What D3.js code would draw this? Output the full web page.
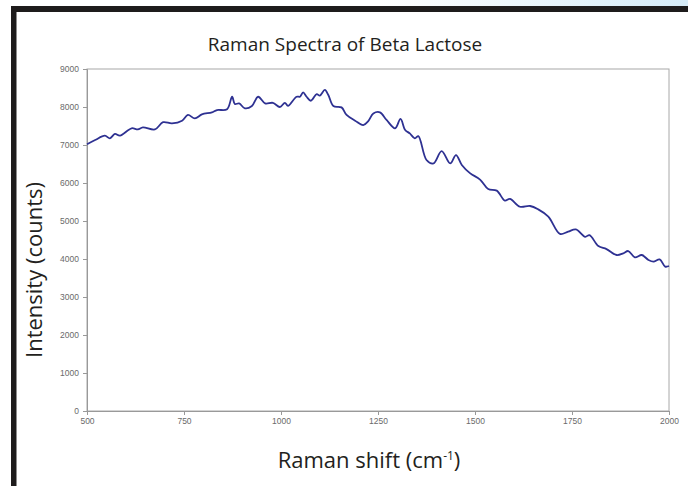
<!DOCTYPE html>
<html>
<head>
    <meta charset="UTF-8">
    <script src="https://d3js.org/d3.v7.min.js"></script>
    <style>
        body { margin: 0; background: #fff; }
        svg { display: block; }
    </style>
</head>
<body>
    <svg></svg>
    <script>
        // Raman shift (cm-1) and intensity (counts)
        let shift = [500, 521, 546, 559, 572, 585, 615, 631, 644, 675, 696, 719, 745, 760, 778, 796,
            822, 835, 861, 874, 881, 892, 907, 925, 941, 959, 979, 997, 1010, 1018, 1040, 1049,
            1057, 1066, 1077, 1092, 1100, 1113, 1122, 1135, 1156, 1169, 1191, 1212, 1225, 1238,
            1255, 1272, 1294, 1308, 1320, 1332, 1345, 1354, 1375, 1393, 1414, 1436, 1451, 1466,
            1487, 1513, 1534, 1556, 1577, 1590, 1616, 1642, 1663, 1689, 1719, 1740, 1760, 1784,
            1795, 1818, 1839, 1865, 1882, 1895, 1912, 1930, 1947, 1960, 1976, 1990, 2000];
        let counts = [7020, 7130, 7245, 7175, 7290, 7245, 7440, 7410, 7465, 7410, 7600, 7570, 7640, 7790, 7700, 7805,
            7860, 7920, 7940, 8270, 8080, 8095, 7965, 8025, 8270, 8095, 8110, 8000, 8110, 8030, 8270, 8270,
            8385, 8270, 8165, 8340, 8300, 8450, 8315, 8025, 7990, 7790, 7640, 7525, 7630, 7830,
            7860, 7660, 7440, 7685, 7395, 7305, 7175, 7235, 6605, 6515, 6840, 6515, 6735, 6475,
            6260, 6090, 5840, 5800, 5535, 5580, 5375, 5395, 5305, 5115, 4660, 4720, 4780, 4585,
            4630, 4340, 4260, 4105, 4150, 4210, 4045, 4105, 3975, 3930, 3990, 3800, 3815];
        let xTicks = [500, 750, 1000, 1250, 1500, 1750, 2000];
        let yTicks = [0, 1000, 2000, 3000, 4000, 5000, 6000, 7000, 8000, 9000];

        let width = 688, height = 486;
        let svg = d3.select("svg").attr("width", width).attr("height", height);

        // light blue strip at the top right and the black frame
        let grad = svg.append("defs").append("linearGradient").attr("id", "strip");
        grad.append("stop").attr("offset", "0%").attr("stop-color", "#fff");
        grad.append("stop").attr("offset", "55%").attr("stop-color", "#fff");
        grad.append("stop").attr("offset", "100%").attr("stop-color", "#d6ecf8");
        svg.append("rect").attr("x", 0).attr("y", 0).attr("width", width).attr("height", 7).attr("fill", "url(#strip)");
        svg.append("rect").attr("x", 11).attr("y", 6).attr("width", width - 11).attr("height", 6).attr("fill", "#1e1c1c");
        svg.append("rect").attr("x", 11).attr("y", 6).attr("width", 5.5).attr("height", height - 6).attr("fill", "#1e1c1c");

        let pLeft = 87, pRight = 669, pTop = 69, pBottom = 411;
        let x = d3.scaleLinear().domain([500, 2000]).range([pLeft, pRight]);
        let y = d3.scaleLinear().domain([0, 9000]).range([pBottom, pTop]);

        // plot box
        svg.append("rect")
            .attr("x", pLeft).attr("y", pTop)
            .attr("width", pRight - pLeft).attr("height", pBottom - pTop)
            .attr("fill", "none").attr("stroke", "#a8a8a8").attr("stroke-width", 1);

        let yAxis = svg.append("g")
            .attr("transform", "translate(" + pLeft + ",0)")
            .call(d3.axisLeft(y).tickValues(yTicks).tickSize(4).tickPadding(4).tickFormat(d3.format("d")));
        let xAxis = svg.append("g")
            .attr("transform", "translate(0," + pBottom + ")")
            .call(d3.axisBottom(x).tickValues(xTicks).tickSize(4).tickPadding(3).tickFormat(d3.format("d")));
        [xAxis, yAxis].forEach(a => {
            a.select(".domain").attr("stroke", "#999");
            a.selectAll(".tick line").attr("stroke", "#999");
            a.selectAll(".tick text")
                .attr("fill", "#6a6a6a")
                .style("font-family", "'Liberation Sans', Arial, sans-serif")
                .style("font-size", "8.5px");
        });

        let pts = shift.map((s, i) => [s, counts[i]]);
        svg.append("path")
            .datum(pts)
            .attr("fill", "none")
            .attr("stroke", "#2e3192")
            .attr("stroke-width", 1.8)
            .attr("d", d3.line().x(d => x(d[0])).y(d => y(d[1])).curve(d3.curveCatmullRom));

        // texts
        let font = "'Open Sans', 'Noto Sans', sans-serif";
        svg.append("text")
            .attr("x", 345).attr("y", 51)
            .attr("text-anchor", "middle")
            .style("font-family", font).style("font-size", "19px").attr("fill", "#231f20")
            .text("Raman Spectra of Beta Lactose");

        svg.append("text")
            .attr("transform", "translate(42,270) rotate(-90)")
            .attr("text-anchor", "middle")
            .style("font-family", font).style("font-size", "22px").attr("fill", "#231f20")
            .text("Intensity (counts)");

        let xl = svg.append("text")
            .attr("x", 369).attr("y", 468)
            .attr("text-anchor", "middle")
            .style("font-family", font).style("font-size", "22px").attr("fill", "#231f20");
        xl.append("tspan").text("Raman shift (cm");
        xl.append("tspan").attr("dy", -8).style("font-size", "12px").text("-1");
        xl.append("tspan").attr("dy", 8).text(")");
    </script>
</body>
</html>
